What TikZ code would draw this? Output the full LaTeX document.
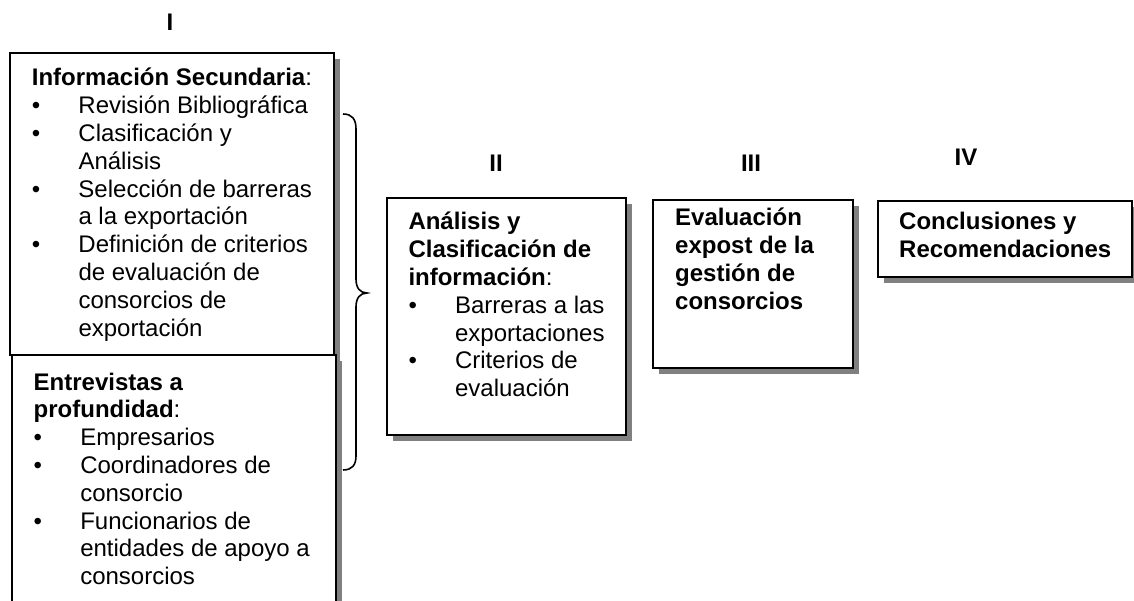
\documentclass[tikz,border=0pt]{standalone}
\usepackage{fontspec}
\setmainfont{Liberation Sans}
\newcommand{\itembul}{\makebox[46.6pt][l]{\textbullet}}
\newcommand{\itemcont}{\hspace*{46.6pt}}
\definecolor{shadowgray}{HTML}{808080}
\tikzset{
  box/.style={draw=black, line width=2pt, fill=white},
  shade6/.style={fill=shadowgray, draw=none},
  txt/.style={anchor=base west, inner sep=0pt, font=\fontsize{24}{27.8}\selectfont},
  lbl/.style={anchor=base, inner sep=0pt, font=\fontsize{24}{27.8}\selectfont\bfseries},
  bracestyle/.style={draw=black, line width=1.6pt},
}
\begin{document}
\begin{tikzpicture}[x=1pt,y=-1pt]
\clip (0,0) rectangle (1134,601);
\fill[white] (0,0) rectangle (1134,601);

% Box I (top)
\fill[shade6] (16,59) rectangle (340,361);
\path[box] (10,53) rectangle (334,355);
% Box I (bottom)
\fill[shade6] (18,361) rectangle (342,630);
\path[box] (12,355) rectangle (336,625);
% Box II
\fill[shade6] (393,204) rectangle (632,441);
\path[box] (387,198) rectangle (626,435);
% Box III
\fill[shade6] (659,206) rectangle (859,374);
\path[box] (653,200) rectangle (853,368);
% Box IV
\fill[shade6] (884,207) rectangle (1138,283);
\path[box] (878,201) rectangle (1132,277);

% Labels
\node[lbl] (l1) at (170,31) {I};
\node[lbl] (l2) at (496,172) {II};
\node[lbl] (l3) at (751,172) {III};
\node[lbl] (l4) at (966,166) {IV};

% Texts
\node[txt] (t1) at (31.7,86) {\begin{minipage}[t]{300pt}\raggedright
\textbf{Información Secundaria}:\\
\itembul Revisión Bibliográfica\\
\itembul Clasificación y\\
\itemcont Análisis\\
\itembul Selección de barreras\\
\itemcont a la exportación\\
\itembul Definición de criterios\\
\itemcont de evaluación de\\
\itemcont consorcios de\\
\itemcont exportación
\end{minipage}};

\node[txt] (t2) at (33.5,390) {\begin{minipage}[t]{300pt}\raggedright
\textbf{Entrevistas a}\\
\textbf{profundidad}:\\
\itembul Empresarios\\
\itembul Coordinadores de\\
\itemcont consorcio\\
\itembul Funcionarios de\\
\itemcont entidades de apoyo a\\
\itemcont consorcios
\end{minipage}};

\node[txt] (t3) at (408.3,230) {\begin{minipage}[t]{220pt}\raggedright
\textbf{Análisis y}\\
\textbf{Clasificación de}\\
\textbf{información}:\\
\itembul Barreras a las\\
\itemcont exportaciones\\
\itembul Criterios de\\
\itemcont evaluación
\end{minipage}};

\node[txt] (t4) at (675,226) {\begin{minipage}[t]{180pt}\raggedright
\textbf{Evaluación}\\
\textbf{expost de la}\\
\textbf{gestión de}\\
\textbf{consorcios}
\end{minipage}};

\node[txt] (t5) at (899,230) {\begin{minipage}[t]{230pt}\raggedright
\textbf{Conclusiones y}\\
\textbf{Recomendaciones}
\end{minipage}};

% Brace
\coordinate (bt) at (343,114);
\coordinate (bm) at (367,293);
\coordinate (bb) at (343,470);
\draw[bracestyle] (bt) .. controls (352,114) and (356,119) .. (356,129)
  -- (356,279) .. controls (356,288) and (360,293) .. (bm)
  .. controls (360,293) and (356,298) .. (356,307)
  -- (356,456) .. controls (356,465) and (352,470) .. (bb);
\end{tikzpicture}
\end{document}
